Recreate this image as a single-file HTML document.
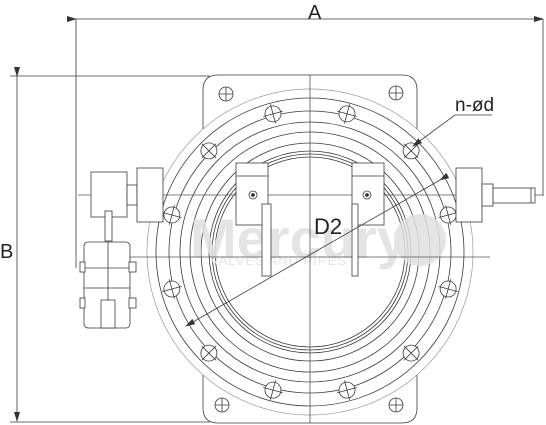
<!DOCTYPE html>
<html><head><meta charset="utf-8"><style>
html,body{margin:0;padding:0;background:#fff;}
svg{display:block;font-family:"Liberation Sans",sans-serif;}
</style></head><body>
<svg width="546" height="425" viewBox="0 0 546 425">
<defs><marker id="ar" markerWidth="10" markerHeight="6" refX="9" refY="3" orient="auto" markerUnits="userSpaceOnUse"><path d="M0,0 L10,3 L0,6 z" fill="#333"/></marker></defs>
<g stroke="#3a3a3a" stroke-width="0.8" fill="none">
<g>
<line x1="76" y1="19" x2="543" y2="19" marker-start="url(#ar)" marker-end="url(#ar)"/>
<line x1="76" y1="19" x2="76" y2="268"/>
<line x1="543" y1="19" x2="543" y2="196"/>
</g>
<g>
<line x1="17" y1="76" x2="17" y2="421" marker-start="url(#ar)" marker-end="url(#ar)"/>
<line x1="10" y1="76" x2="210" y2="76"/>
<line x1="10" y1="422" x2="210" y2="422"/>
</g>
<path d="M218,75 H402 Q417,75 417,90 V408 Q417,423 402,423 H218 Q203,423 203,408 V90 Q203,75 218,75 Z" fill="#fff"/>
<g>
<circle cx="310" cy="252" r="163" stroke="#999" stroke-width="0.7" fill="#fff"/>
<circle cx="310" cy="252" r="154"/>
<circle cx="310" cy="252" r="141"/>
<circle cx="310" cy="252" r="130"/>
<circle cx="310" cy="252" r="120"/>
<circle cx="310" cy="252" r="109"/>
<circle cx="310" cy="252" r="101"/>
<circle cx="310" cy="252" r="98"/>
<circle cx="310" cy="252" r="95"/>
</g>
<g id="holes"></g>
<g>
<circle cx="226" cy="94" r="7"/><path d="M219,94h14M226,87v14"/>
<circle cx="396" cy="93" r="7"/><path d="M389,93h14M396,86v14"/>
<circle cx="222" cy="405" r="7"/><path d="M215,405h14M222,398v14"/>
<circle cx="396" cy="405" r="7"/><path d="M389,405h14M396,398v14"/>
</g>
<g fill="#e0e0e0" stroke="none" opacity="0.85">
<text x="190" y="258" font-size="56" font-weight="bold">Mercury</text>
<text x="210" y="265" font-size="13" letter-spacing="1">VALVES AND PIPES</text>
<circle cx="420" cy="240" r="26"/>
</g>
<g stroke="#555">
<line x1="310" y1="75" x2="310" y2="423"/>
<line x1="78" y1="195" x2="543" y2="195"/>
<line x1="128" y1="257" x2="490" y2="257"/>
</g>
<g fill="#fff">
<rect x="91" y="172" width="36" height="45"/>
<rect x="127" y="185" width="10" height="20"/>
<rect x="137" y="168" width="26" height="54"/>
<rect x="105" y="211" width="7" height="30"/>
<rect x="84" y="242" width="46" height="86" rx="4"/>
<line x1="84" y1="268" x2="130" y2="268"/><line x1="84" y1="288" x2="130" y2="288"/>
<line x1="108" y1="242" x2="108" y2="328"/>
<rect x="101" y="300" width="14" height="28"/>
<rect x="80" y="262" width="5" height="10"/><rect x="129" y="262" width="7" height="10"/>
<rect x="80" y="298" width="5" height="10"/><rect x="129" y="298" width="7" height="10"/>
</g>
<g fill="#fff">
<rect x="456" y="168" width="26" height="54"/>
<rect x="482" y="184" width="11" height="22"/>
<rect x="493" y="188" width="42" height="15"/>
<line x1="531" y1="188" x2="531" y2="203"/>
</g>
<g fill="#fff">
<rect x="236" y="163" width="32" height="62"/><line x1="236" y1="176" x2="268" y2="176"/>
<rect x="262" y="204" width="9" height="72"/>
<circle cx="253" cy="195" r="4"/><circle cx="253" cy="195" r="1.5" fill="#333"/>
<rect x="352" y="163" width="32" height="62"/><line x1="352" y1="176" x2="384" y2="176"/>
<rect x="352" y="204" width="6" height="72"/>
<circle cx="367" cy="195" r="4"/><circle cx="367" cy="195" r="1.5" fill="#333"/>
</g>
<line x1="440" y1="180" x2="186" y2="326" marker-start="url(#ar)" marker-end="url(#ar)"/>
<polyline points="492,115 455,115 413,146" marker-end="url(#ar)"/>
</g>
<text x="308" y="19" font-size="20" fill="#222">A</text>
<text x="0" y="258" font-size="20" fill="#222">B</text>
<text x="314" y="234" font-size="22" fill="#222">D2</text>
<text x="455" y="111" font-size="19" fill="#222">n-ød</text>
<script>
const holeAngles=[15,45,75,105,135,165,195,225,255,285,315,345];
const g=document.getElementById('holes');
holeAngles.forEach(a=>{
 const r=a*Math.PI/180,x=310+143*Math.cos(r),y=252+143*Math.sin(r);
 const c=document.createElementNS('http://www.w3.org/2000/svg','circle');
 
 
 c.setAttribute('cx',x);c.setAttribute('cy',y);c.setAttribute('r',8);c.setAttribute('fill','#fff');
 g.appendChild(c);
 const p=document.createElementNS('http://www.w3.org/2000/svg','path');
 
 
 const t=r+Math.PI/2,cs=Math.cos(r),sn=Math.sin(r),ct=Math.cos(t),st=Math.sin(t);
 p.setAttribute('d',`M${x-10*cs},${y-10*sn}L${x+10*cs},${y+10*sn}M${x-10*ct},${y-10*st}L${x+10*ct},${y+10*st}`);
 g.appendChild(p);
});
</script>
</svg>
</body></html>
